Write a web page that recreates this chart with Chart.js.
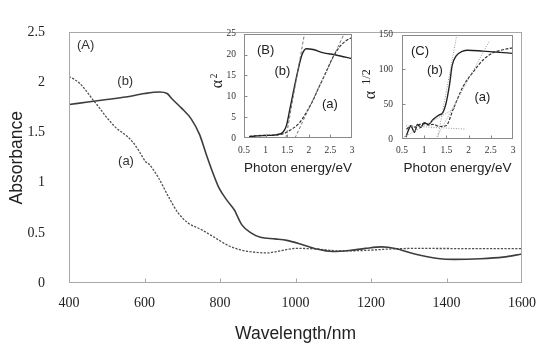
<!DOCTYPE html>
<html><head><meta charset="utf-8">
<script src="https://cdn.jsdelivr.net/npm/chart.js@4/dist/chart.umd.min.js"></script>
<style>
html,body{margin:0;padding:0;background:#fff;}
#wrap{position:relative;width:548px;height:345px;overflow:hidden;}
canvas{position:absolute;}
</style></head><body>
<div id="wrap">
<canvas id="main" width="548" height="345" style="left:0;top:0;width:548px;height:345px"></canvas>
<canvas id="insB" width="160" height="165" style="left:205px;top:20px;width:160px;height:165px"></canvas>
<canvas id="insC" width="185" height="165" style="left:355px;top:20px;width:185px;height:165px"></canvas>
</div>
<script>
// ===== Main panel (A): absorbance vs wavelength =====
const wavelengthB = [400,450,500,550,600,640,660,672,698,724,746,763,781,798,820,839,845,858,881,907,946,977,1011,1055,1098,1142,1185,1228,1264,1316,1377,1420,1490,1550,1600];
const absorbanceB = [1.78,1.805,1.83,1.855,1.89,1.905,1.89,1.84,1.745,1.635,1.48,1.29,1.10,0.943,0.817,0.723,0.675,0.58,0.503,0.456,0.44,0.425,0.392,0.34,0.314,0.324,0.345,0.36,0.345,0.289,0.245,0.236,0.242,0.258,0.289];
const wavelengthA = [400,415,429,445,463,480,498,524,550,568,585,603,611,637,663,689,716,750,785,820,855,890,925,950,1003,1055,1116,1185,1255,1320,1400,1500,1600];
const absorbanceA = [2.06,2.03,1.99,1.92,1.83,1.75,1.66,1.55,1.475,1.41,1.32,1.21,1.19,1.05,0.864,0.70,0.597,0.534,0.456,0.377,0.33,0.308,0.30,0.314,0.345,0.34,0.32,0.325,0.34,0.345,0.344,0.343,0.342];
const mainXTicks = [400,600,800,1000,1200,1400,1600];
const mainYTicks = [0,0.5,1,1.5,2,2.5];

// ===== Inset (B): alpha^2 vs photon energy =====
const energyBb = [0.62,0.8,1.0,1.2,1.3,1.4,1.48,1.55,1.63,1.74,1.84,1.94,2.1,2.32,2.63,3.0];
const alpha2b  = [0.3,0.5,0.6,0.7,0.9,1.36,2.9,6.3,10.4,15.8,19.9,21.4,21.2,20.45,19.9,19.0];
const energyBa = [0.62,0.8,1.0,1.2,1.4,1.55,1.78,1.93,2.09,2.24,2.40,2.55,2.71,2.86,3.0];
const alpha2a  = [0.4,0.55,0.65,0.7,1.0,1.75,3.6,5.9,8.9,12.3,15.8,19.2,21.8,23.3,24.1];
const fitBbE = [1.47,1.90], fitBbV = [0,25];
const fitBaE = [1.68,2.82], fitBaV = [0,25];
const insetEnergyTicks = [0.5,1,1.5,2,2.5,3];
const insetBYTicks = [0,5,10,15,20,25];

// ===== Inset (C): alpha^(1/2) vs photon energy =====
const energyCb = [0.59,0.64,0.70,0.78,0.85,0.92,1.0,1.1,1.2,1.34,1.41,1.49,1.57,1.63,1.72,1.87,1.98,2.32,2.62,2.99];
const alphaHb  = [2.7,12,18.8,9.6,21,16.5,23.4,21,28,34.8,37,50.8,78,105.8,119.5,126.4,127.7,126.4,125,123.2];
const energyCa = [0.6,0.7,0.8,0.9,1.0,1.1,1.2,1.35,1.49,1.66,1.88,2.11,2.33,2.55,2.75,2.99];
const alphaHa  = [14,19,17,21,22,20,21,18,19,44,76,97,114,124,128,131];
const fitCbE = [1.30,1.735], fitCbV = [0,150];
const fitCaE = [1.26,2.46], fitCaV = [0,140];
const fitCbaseE = [0.59,1.94], fitCbaseV = [18.8,14.2];
const fitClowE = [0.545,1.69], fitClowV = [2.7,44];
const insetCYTicks = [0,50,100,150];

const pts = (xs, ys) => xs.map((x,i)=>({x, y:ys[i]}));

const framePlugin = {
  id:'frame',
  afterDatasetsDraw(chart, args, opts){
    const {ctx, chartArea:a, scales} = chart;
    ctx.save();
    ctx.strokeStyle = opts.color || '#999';
    ctx.lineWidth = 1;
    const L = Math.round(a.left)+0.5, R = Math.round(a.right)-0.5, T = Math.round(a.top)+0.5, B = Math.round(a.bottom)-0.5;
    ctx.strokeRect(L, T, R-L, B-T);
    const len = opts.tickLen || 0;
    if (len && opts.xTicks){
      ctx.beginPath();
      scales.x.ticks.forEach(t=>{
        const px = Math.round(scales.x.getPixelForValue(t.value))+0.5;
        if (px>L+1 && px<R-1){ ctx.moveTo(px,B); ctx.lineTo(px,B-len); }
      });
      ctx.stroke();
    }
    if (len && opts.yTicks){
      ctx.beginPath();
      scales.y.ticks.forEach(t=>{
        const py = Math.round(scales.y.getPixelForValue(t.value))+0.5;
        if (py>T+1 && py<B-1){ ctx.moveTo(L,py); ctx.lineTo(L+len,py); }
      });
      ctx.stroke();
    }
    ctx.restore();
  }
};

const textPlugin = {
  id:'texts',
  afterDatasetsDraw(chart, args, opts){
    const {ctx, scales:{x,y}} = chart;
    ctx.save();
    ctx.font = opts.font; ctx.fillStyle = opts.color;
    ctx.textAlign = 'center'; ctx.textBaseline = 'middle';
    (opts.items||[]).forEach(it=>{
      ctx.fillText(it.text, x.getPixelForValue(it.x), y.getPixelForValue(it.y));
    });
    (opts.rot||[]).forEach(it=>{
      ctx.save();
      ctx.font = it.font;
      ctx.translate(it.cx, it.cy);
      ctx.rotate(-Math.PI/2);
      ctx.fillText(it.text, 0, 0);
      ctx.restore();
    });
    ctx.restore();
  }
};

const serif = 'Liberation Serif, Times New Roman, serif';
const sans = 'Liberation Sans, Arial, sans-serif';

function lineDs(data, color, width, dash, extra){
  return Object.assign({data, borderColor:color, borderWidth:width, borderDash:dash||[], pointRadius:0, fill:false, cubicInterpolationMode:'monotone'}, extra||{});
}

new Chart(document.getElementById('main'), {
  type:'line',
  data:{datasets:[
    lineDs(pts(wavelengthB, absorbanceB), '#3d3d3d', 1.6, []),
    lineDs(pts(wavelengthA, absorbanceA), '#505050', 1.3, [2.2,1.4])
  ]},
  options:{
    responsive:false, animation:false, devicePixelRatio:1,
    layout:{padding:{top:18, right:19, left:0, bottom:0}},
    plugins:{legend:{display:false}, tooltip:{enabled:false},
      frame:{color:'#a8a8a8', tickLen:4, xTicks:true, yTicks:false},
      texts:{font:'13px '+sans, color:'#333', items:[
        {text:'(A)', x:444, y:2.37},
        {text:'(b)', x:549, y:2.01},
        {text:'(a)', x:551, y:1.217}
      ]}
    },
    scales:{
      x:{type:'linear', min:400, max:1600,
        afterBuildTicks(s){ s.ticks = mainXTicks.map(v=>({value:v})); },
        ticks:{font:{family:serif, size:14}, color:'#222', padding:12, maxRotation:0, callback:v=>String(v)},
        grid:{display:false, drawTicks:false}, border:{display:false},
        title:{display:true, text:'Wavelength/nm', font:{family:sans, size:17.5}, color:'#222', padding:{top:0,bottom:0}},
        afterFit(s){ s.height = 62; }
      },
      y:{type:'linear', min:0, max:2.5,
        afterBuildTicks(s){ s.ticks = mainYTicks.map(v=>({value:v})); },
        ticks:{font:{family:serif, size:14}, color:'#222', padding:24, callback:v=>String(v)},
        grid:{display:false, drawTicks:false}, border:{display:false},
        title:{display:true, text:'Absorbance', font:{family:sans, size:17.5}, color:'#222', padding:{top:7,bottom:0}},
        afterFit(s){ s.width = 69; }
      }
    }
  },
  plugins:[framePlugin, textPlugin]
});

function insetScales(xH, yW, yMin, yMax, yTicks, yPad, xPad){
  return {
    x:{type:'linear', min:0.5, max:3,
      afterBuildTicks(s){ s.ticks = insetEnergyTicks.map(v=>({value:v})); },
      ticks:{font:{family:serif, size:9.5}, color:'#333', padding:xPad, maxRotation:0, callback:v=>String(v)},
      grid:{display:false, drawTicks:false}, border:{display:false},
      title:{display:true, text:'Photon energy/eV', font:{family:sans, size:13.5}, color:'#222', padding:{top:0,bottom:9}},
      afterFit(s){ s.height = xH; }
    },
    y:{type:'linear', min:yMin, max:yMax,
      afterBuildTicks(s){ s.ticks = yTicks.map(v=>({value:v})); },
      ticks:{font:{family:serif, size:9.5}, color:'#333', padding:yPad, callback:v=>String(v)},
      grid:{display:false, drawTicks:false}, border:{display:false},
      afterFit(s){ s.width = yW; }
    }
  };
}

new Chart(document.getElementById('insB'), {
  type:'line',
  data:{datasets:[
    lineDs(pts(fitBbE, fitBbV), '#666', 0.9, [3,2], {cubicInterpolationMode:'default'}),
    lineDs(pts(fitBaE, fitBaV), '#666', 0.9, [3,2], {cubicInterpolationMode:'default'}),
    lineDs(pts(energyBb, alpha2b), '#222', 1.4, []),
    lineDs(pts(energyBa, alpha2a), '#333', 1.2, [3,1.5])
  ]},
  options:{
    responsive:false, animation:false, devicePixelRatio:1,
    layout:{padding:{top:8, right:13, left:0, bottom:0}},
    plugins:{legend:{display:false}, tooltip:{enabled:false},
      frame:{color:'#8a8a8a', tickLen:3, xTicks:true, yTicks:true},
      texts:{font:'13px '+sans, color:'#222', items:[
        {text:'(B)', x:1.0, y:21.1},
        {text:'(b)', x:1.39, y:16.0},
        {text:'(a)', x:2.49, y:7.95}
      ], rot:[
        {text:'α', font:'16px '+serif, cx:13, cy:64},
        {text:'2', font:'10px '+serif, cx:9, cy:56}
      ]}
    },
    scales: insetScales(47, 39, 0, 25, insetBYTicks, 8, 6.3)
  },
  plugins:[framePlugin, textPlugin]
});

new Chart(document.getElementById('insC'), {
  type:'line',
  data:{datasets:[
    lineDs(pts(fitCbE, fitCbV), '#999', 1, [1,1.5], {cubicInterpolationMode:'default'}),
    lineDs(pts(fitCaE, fitCaV), '#999', 1, [1,1.5], {cubicInterpolationMode:'default'}),
    lineDs(pts(fitCbaseE, fitCbaseV), '#999', 1, [1,1.5], {cubicInterpolationMode:'default'}),
    lineDs(pts(fitClowE, fitClowV), '#999', 1, [1,1.5], {cubicInterpolationMode:'default'}),
    lineDs(pts(energyCb, alphaHb), '#222', 1.4, []),
    lineDs(pts(energyCa, alphaHa), '#333', 1.2, [3,1.5])
  ]},
  options:{
    responsive:false, animation:false, devicePixelRatio:1,
    layout:{padding:{top:8, right:27, left:0, bottom:0}},
    plugins:{legend:{display:false}, tooltip:{enabled:false},
      frame:{color:'#8a8a8a', tickLen:3, xTicks:true, yTicks:true},
      texts:{font:'13px '+sans, color:'#222', items:[
        {text:'(C)', x:0.905, y:126},
        {text:'(b)', x:1.24, y:98},
        {text:'(a)', x:2.31, y:60}
      ], rot:[
        {text:'α', font:'16px '+serif, cx:16, cy:75},
        {text:'1/2', font:'12px '+serif, cx:12, cy:57}
      ]}
    },
    scales: insetScales(46, 47, 0, 150, insetCYTicks, 9, 5.3)
  },
  plugins:[framePlugin, textPlugin]
});
</script>
</body></html>
